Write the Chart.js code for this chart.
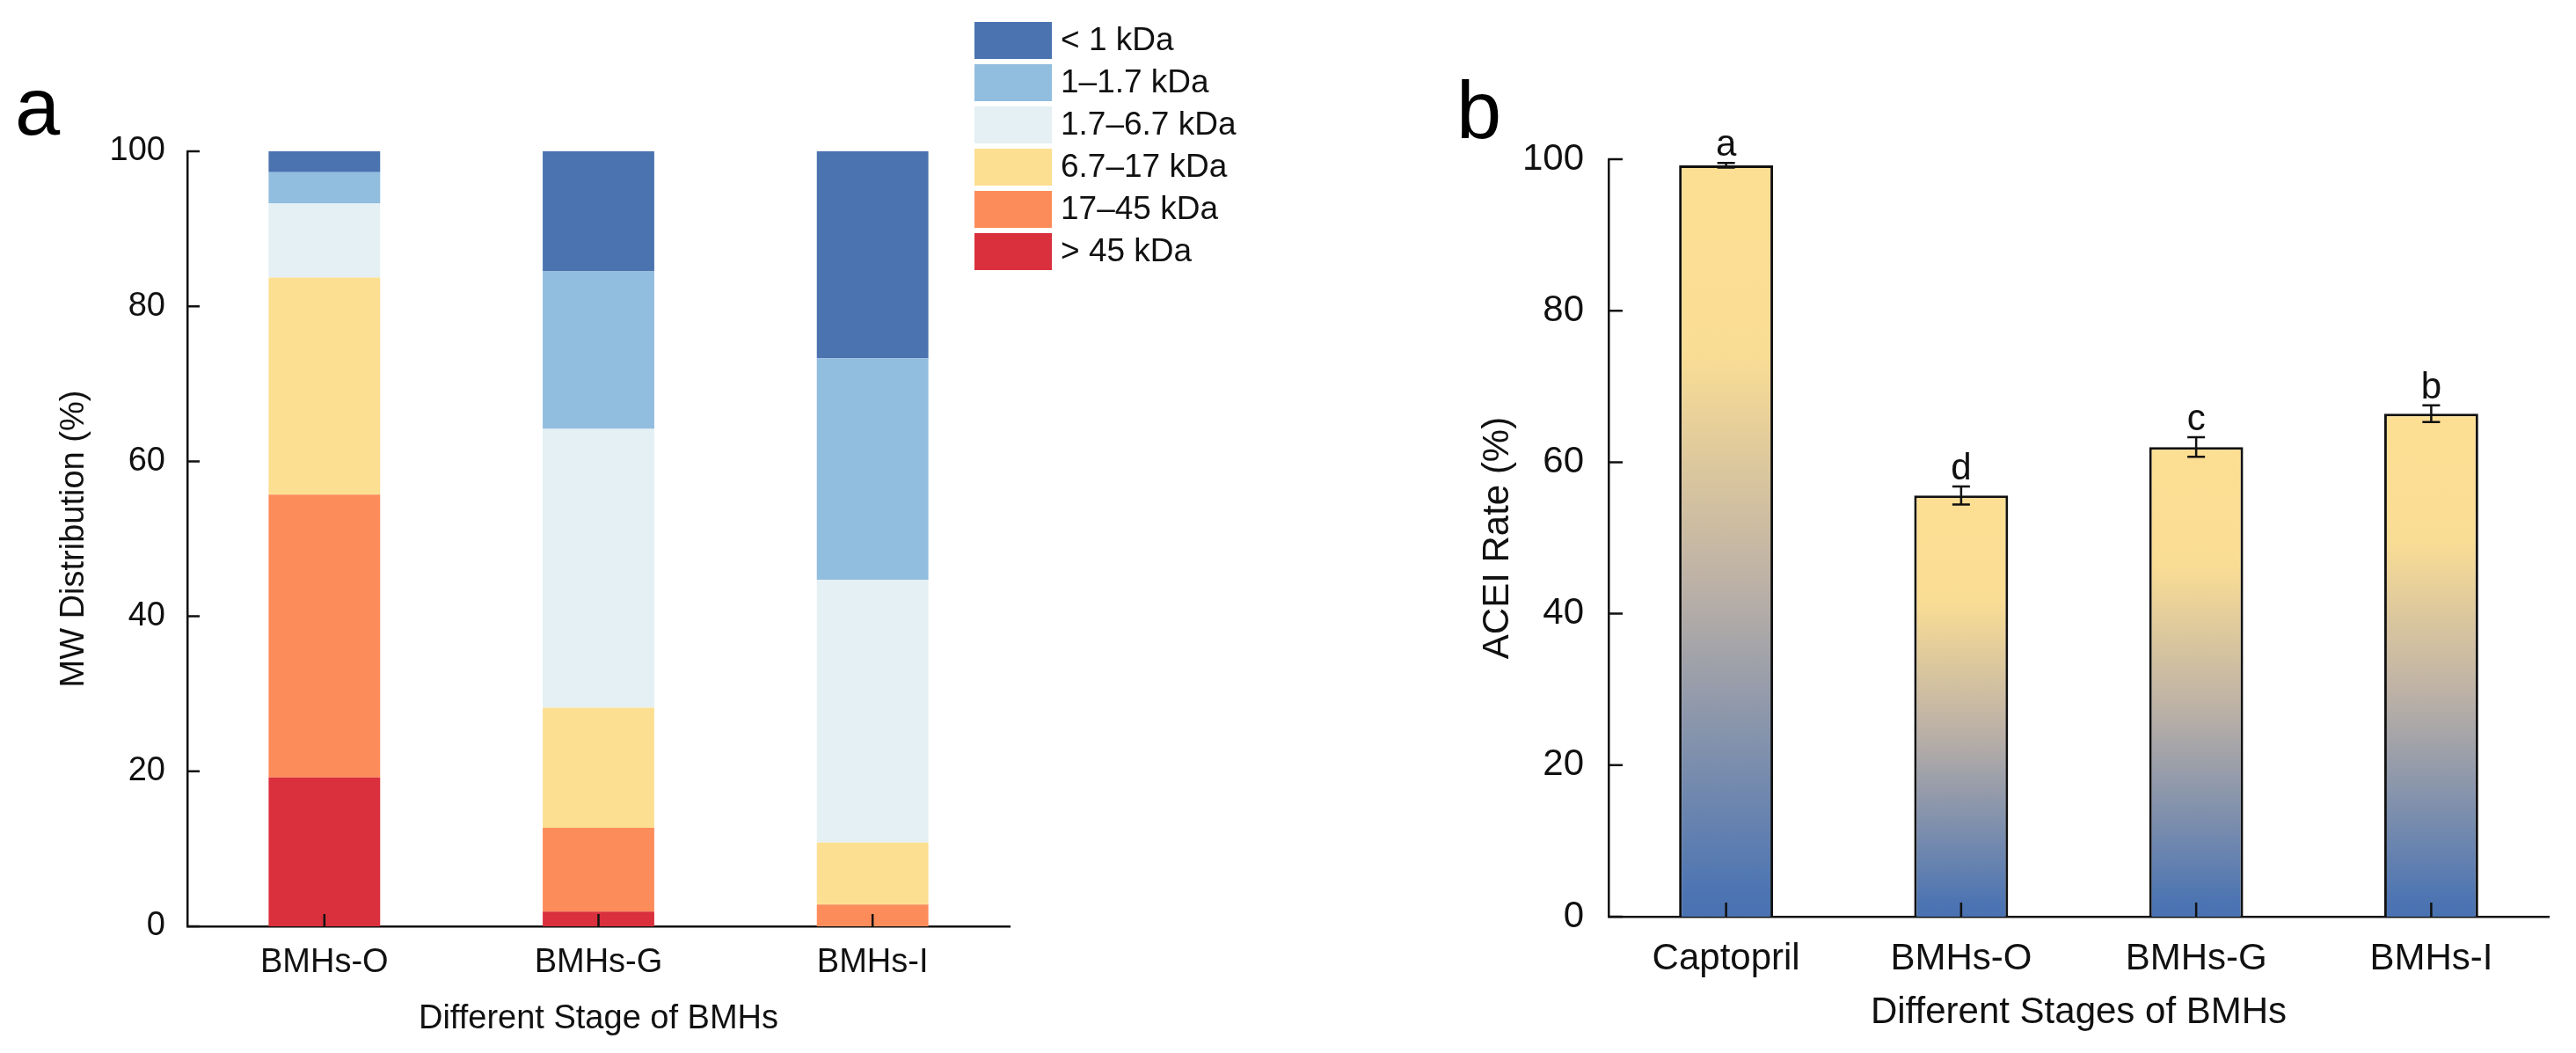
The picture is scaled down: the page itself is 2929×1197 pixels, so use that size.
<!DOCTYPE html>
<html>
<head>
<meta charset="utf-8">
<title>MW distribution and ACEI rate of BMHs</title>
<script src="https://cdn.jsdelivr.net/npm/chart.js@4.4.0/dist/chart.umd.min.js"></script>
<style>
  html, body { margin: 0; padding: 0; background: #fff; }
  #wrap { position: relative; width: 2929px; height: 1197px; }
  canvas { position: absolute; top: 0; }
  #mw { left: 0; }
  #acei { left: 1600px; }
</style>
</head>
<body>
<div id="wrap">
  <canvas id="mw" width="1450" height="1197"></canvas>
  <canvas id="acei" width="1329" height="1197"></canvas>
</div>
<script>
// panel a: molecular weight distribution (%), one array per fraction
const mwStages = ['BMHs-O', 'BMHs-G', 'BMHs-I'];
const mwBelow1 = [2.7, 15.5, 26.7];
const mw1to1p7 = [4.0, 20.3, 28.6];
const mw1p7to6p7 = [9.6, 36.0, 33.9];
const mw6p7to17 = [28.0, 15.5, 8.0];
const mw17to45 = [36.5, 10.8, 2.8];
const mwAbove45 = [19.2, 1.9, 0];

// panel b: ACE inhibition rate (%)
const aceStages = ['Captopril', 'BMHs-O', 'BMHs-G', 'BMHs-I'];
const aceRate = [99.2, 55.6, 62.0, 66.4];
const aceError = [0.3, 1.2, 1.3, 1.1];
const aceLetters = ['a', 'd', 'c', 'b'];

const FONT = '"Liberation Sans", Arial, sans-serif';
const INK = '#111';
Chart.defaults.font.family = FONT;
Chart.defaults.color = INK;

// ticks pointing into the plot, drawn over the bars
function innerTicks(len, width) {
  return {
    id: 'innerTicks',
    afterDatasetsDraw(chart) {
      const { ctx, scales: { x, y } } = chart;
      ctx.save();
      ctx.strokeStyle = INK;
      ctx.lineWidth = width;
      ctx.beginPath();
      y.ticks.forEach((t, i) => {
        const py = y.getPixelForTick(i);
        ctx.moveTo(y.right, py);
        ctx.lineTo(y.right + len, py);
      });
      x.ticks.forEach((t, i) => {
        const px = x.getPixelForTick(i);
        ctx.moveTo(px, x.top);
        ctx.lineTo(px, x.top - len);
      });
      ctx.stroke();
      ctx.restore();
    },
  };
}

function panelLetter(text, x, y) {
  return {
    id: 'panelLetter',
    afterDraw(chart) {
      const ctx = chart.ctx;
      ctx.save();
      ctx.font = '92px ' + FONT;
      ctx.fillStyle = '#000';
      ctx.textBaseline = 'alphabetic';
      ctx.fillText(text, x, y);
      ctx.restore();
    },
  };
}

const mwLegend = {
  id: 'mwLegend',
  afterDraw(chart) {
    const ctx = chart.ctx;
    const sets = chart.data.datasets.slice().reverse();
    ctx.save();
    ctx.font = '37px ' + FONT;
    ctx.textBaseline = 'middle';
    sets.forEach((ds, i) => {
      const top = 25 + i * 48;
      ctx.fillStyle = ds.backgroundColor;
      ctx.fillRect(1108, top, 88, 42);
      ctx.fillStyle = INK;
      ctx.fillText(ds.label, 1206, top + 22);
    });
    ctx.restore();
  },
};

function axisOptions(size, tickPad, titleText, titlePad, fitSize, isX) {
  return {
    border: { display: true, color: INK, width: 2.5 },
    grid: { display: false },
    ticks: { font: { size: size }, padding: tickPad, color: INK },
    title: {
      display: true,
      text: titleText,
      font: { size: size },
      color: INK,
      padding: isX ? { top: 0, bottom: titlePad } : { top: titlePad, bottom: 0 },
    },
    afterFit: (s) => {
      if (isX) s.height = fitSize;
      else s.width = fitSize;
    },
  };
}

// ---- panel a ----
const mwX = axisOptions(38, 11, 'Different Stage of BMHs', 16, 144, true);
mwX.stacked = true;
const mwY = axisOptions(38, 17, 'MW Distribution (%)', 62, 213, false);
mwY.stacked = true;
mwY.min = 0;
mwY.max = 100;
mwY.ticks.stepSize = 20;

new Chart(document.getElementById('mw'), {
  type: 'bar',
  data: {
    labels: mwStages,
    datasets: [
      { label: '> 45 kDa', data: mwAbove45, backgroundColor: '#DA303D' },
      { label: '17–45 kDa', data: mw17to45, backgroundColor: '#FC8C5A' },
      { label: '6.7–17 kDa', data: mw6p7to17, backgroundColor: '#FDDF92' },
      { label: '1.7–6.7 kDa', data: mw1p7to6p7, backgroundColor: '#E4F0F3' },
      { label: '1–1.7 kDa', data: mw1to1p7, backgroundColor: '#91BDDF' },
      { label: '< 1 kDa', data: mwBelow1, backgroundColor: '#4A73B0' },
    ],
  },
  options: {
    responsive: false,
    devicePixelRatio: 1,
    animation: false,
    layout: { padding: { left: 0, right: 302, top: 172, bottom: 0 } },
    datasets: { bar: { barPercentage: 0.407, categoryPercentage: 1, borderWidth: 0 } },
    scales: { x: mwX, y: mwY },
    plugins: { legend: { display: false }, tooltip: { enabled: false } },
  },
  plugins: [innerTicks(14, 2.5), mwLegend, panelLetter('a', 17, 153)],
});

// ---- panel b ----
// yellow at the top of each bar fading through warm grey to blue at the base
function barGradient(context) {
  const chart = context.chart;
  const { chartArea, scales } = chart;
  if (!chartArea) return '#FDDF93';
  const top = scales.y.getPixelForValue(context.raw);
  const bottom = scales.y.getPixelForValue(0);
  const g = chart.ctx.createLinearGradient(0, top, 0, bottom);
  g.addColorStop(0, '#FDDF93');
  g.addColorStop(0.25, '#FADD94');
  g.addColorStop(0.55, '#BEB2A6');
  g.addColorStop(0.97, '#4C74B2');
  g.addColorStop(1, '#4A72B2');
  return g;
}

const errorBars = {
  id: 'errorBars',
  afterDatasetsDraw(chart) {
    const { ctx, scales: { y } } = chart;
    const meta = chart.getDatasetMeta(0);
    ctx.save();
    ctx.strokeStyle = INK;
    ctx.fillStyle = INK;
    ctx.lineWidth = 2.5;
    ctx.font = '42px ' + FONT;
    ctx.textAlign = 'center';
    ctx.textBaseline = 'alphabetic';
    meta.data.forEach((bar, i) => {
      const hi = y.getPixelForValue(aceRate[i] + aceError[i]);
      const lo = y.getPixelForValue(aceRate[i] - aceError[i]);
      ctx.beginPath();
      ctx.moveTo(bar.x, hi);
      ctx.lineTo(bar.x, lo);
      ctx.moveTo(bar.x - 10, hi);
      ctx.lineTo(bar.x + 10, hi);
      ctx.moveTo(bar.x - 10, lo);
      ctx.lineTo(bar.x + 10, lo);
      ctx.stroke();
      ctx.fillText(aceLetters[i], bar.x, hi - 8);
    });
    ctx.restore();
  },
};

const aceX = axisOptions(42, 15, 'Different Stages of BMHs', 20, 155, true);
const aceY = axisOptions(42, 20, 'ACEI Rate (%)', 78, 229, false);
aceY.min = 0;
aceY.max = 100;
aceY.ticks.stepSize = 20;

new Chart(document.getElementById('acei'), {
  type: 'bar',
  data: {
    labels: aceStages,
    datasets: [
      {
        label: 'ACEI Rate',
        data: aceRate,
        backgroundColor: barGradient,
        borderColor: INK,
        borderWidth: 3,
        borderSkipped: 'bottom',
      },
    ],
  },
  options: {
    responsive: false,
    devicePixelRatio: 1,
    animation: false,
    layout: { padding: { left: 0, right: 31, top: 181, bottom: 0 } },
    datasets: { bar: { barPercentage: 0.4, categoryPercentage: 1 } },
    scales: { x: aceX, y: aceY },
    plugins: { legend: { display: false }, tooltip: { enabled: false } },
  },
  plugins: [innerTicks(16, 2.5), errorBars, panelLetter('b', 56, 157)],
});
</script>
</body>
</html>
